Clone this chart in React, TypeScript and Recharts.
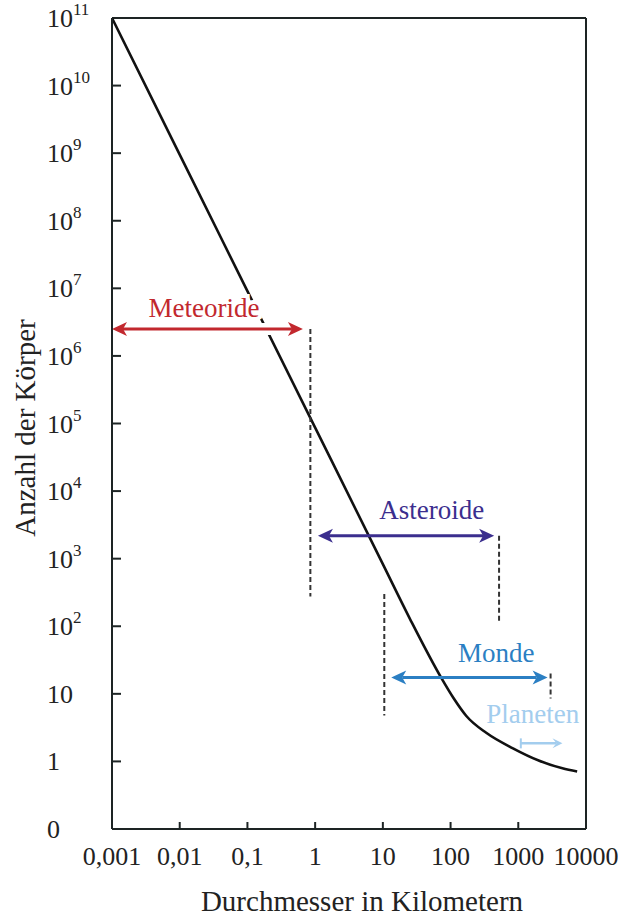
import { LineChart, Line, XAxis, YAxis, ReferenceLine, ReferenceDot } from "recharts";

// size distribution of bodies in the solar system (log-log)
const diameterKm = [0.001, 0.01, 0.1, 1, 10, 25, 74, 111, 171, 336, 834, 2000, 4490, 7400];
const bodyCount = [1e11, 9.5e8, 9.1e6, 8.7e4, 830, 130, 16.8, 8.6, 4.7, 2.65, 1.56, 1.03, 0.79, 0.71];

const xTicks = [0.001, 0.01, 0.1, 1, 10, 100, 1000, 10000];
const xTickLabels = ["0,001", "0,01", "0,1", "1", "10", "100", "1000", "10000"];

const yTicks = [0.1, 1, 10, 1e2, 1e3, 1e4, 1e5, 1e6, 1e7, 1e8, 1e9, 1e10, 1e11];
const yTickBases = ["0", "1", "10", "10", "10", "10", "10", "10", "10", "10", "10", "10", "10"];
const yTickExponents = ["", "", "", "2", "3", "4", "5", "6", "7", "8", "9", "10", "11"];

// range arrows: from / to diameter, height of the arrow, where the label sits
const rangeNames = ["Meteoride", "Asteroide", "Monde", "Planeten"];
const rangeFrom = [0.001, 1.1, 13.3, 1090];
const rangeTo = [0.66, 440, 2710, 4490];
const rangeLevel = [2.5e6, 2180, 17.4, 1.85];
const rangeLabelAt = [0.0229, 52.7, 471, 1635];
const rangeColors = ["#c2282e", "#3b2e8e", "#2b7fc3", "#a3cdee"];

// dashed boundary markers: diameter, top and bottom count
const guideAt = [0.85, 520, 10.5, 3000];
const guideTop = [2.5e6, 2180, 300, 20];
const guideBottom = [275, 120, 4.8, 8.5];

const data = diameterKm.map((d, i) => ({ d, n: bodyCount[i] }));

const FONT = "'Liberation Serif', 'DejaVu Serif', serif";
const INK = "#1d2424";
const PLOT_LEFT = 112;
const PLOT_BOTTOM = 829;

function YTick(props: any) {
  const { y, payload } = props;
  const i = yTicks.indexOf(payload.value);
  const exp = yTickExponents[i];
  const inner = i > 0 && i < yTicks.length - 1;
  return (
    <g>
      {inner && <line x1={PLOT_LEFT} x2={PLOT_LEFT + 9} y1={y} y2={y} stroke={INK} strokeWidth={2} />}
      <text x={47} y={y + 9} fontSize={26} fill="#222" fontFamily={FONT}>
        {yTickBases[i]}
        {exp && (
          <tspan dy={-12} fontSize={17}>
            {exp}
          </tspan>
        )}
      </text>
    </g>
  );
}

function XTick(props: any) {
  const { x, payload } = props;
  const i = xTicks.indexOf(payload.value);
  const inner = i > 0 && i < xTicks.length - 1;
  return (
    <g>
      {inner && <line x1={x} x2={x} y1={PLOT_BOTTOM} y2={PLOT_BOTTOM - 7} stroke={INK} strokeWidth={2} />}
      <text x={x} y={865} fontSize={26} fill="#222" textAnchor="middle" fontFamily={FONT}>
        {xTickLabels[i]}
      </text>
    </g>
  );
}

function arrowHead(x: number, y: number, dir: number, len: number, half: number) {
  return `M${x},${y} L${x - dir * len},${y - half} L${x - dir * (len - 4)},${y} L${x - dir * len},${y + half} Z`;
}

function RangeArrow(props: any) {
  const { x1, x2, y1, idx } = props;
  const color = rangeColors[idx];
  const small = idx === 3;
  const left = Math.min(x1, x2);
  const right = Math.max(x1, x2);
  const len = small ? 10 : 15;
  const half = small ? 5 : 7;
  return (
    <g>
      {idx === 0 && <line x1={left} x2={right} y1={y1} y2={y1} stroke="#fff" strokeWidth={12} />}
      <line
        x1={left + (small ? 0 : len - 4)}
        x2={right - len + 4}
        y1={y1}
        y2={y1}
        stroke={color}
        strokeWidth={small ? 2.5 : 3}
      />
      {small ? (
        <line x1={left} x2={left} y1={y1 - 5} y2={y1 + 5} stroke={color} strokeWidth={2} />
      ) : (
        <path d={arrowHead(left, y1, -1, len, half)} fill={color} />
      )}
      <path d={arrowHead(right, y1, 1, len, half)} fill={color} />
    </g>
  );
}

const labelRise = [12, 17, 16, 20];

function RangeLabel(props: any) {
  const { cx, cy, idx } = props;
  return (
    <text
      x={cx}
      y={cy - labelRise[idx]}
      textAnchor="middle"
      fontSize={27}
      fontFamily={FONT}
      fill={rangeColors[idx]}
      stroke={idx === 0 ? "#fff" : "none"}
      strokeWidth={idx === 0 ? 8 : 0}
      paintOrder="stroke"
    >
      {rangeNames[idx]}
    </text>
  );
}

export default function App() {
  return (
    <div style={{ position: "absolute", left: 0, top: 0, background: "#fff" }}>
      <LineChart
        width={643}
        height={917}
        data={data}
        margin={{ top: 18, right: 57, bottom: 28, left: 0 }}
        style={{ fontFamily: FONT }}
      >
        <XAxis
          dataKey="d"
          type="number"
          scale="log"
          domain={[0.001, 10000]}
          ticks={xTicks}
          interval={0}
          height={60}
          tickLine={false}
          axisLine={{ stroke: INK, strokeWidth: 2 }}
          tick={<XTick />}
          label={{
            content: () => (
              <text x={362} y={911} textAnchor="middle" fontSize={29} fill="#222" fontFamily={FONT}>
                Durchmesser in Kilometern
              </text>
            ),
          }}
        />
        <YAxis
          type="number"
          scale="log"
          domain={[0.1, 1e11]}
          ticks={yTicks}
          interval={0}
          width={112}
          tickLine={false}
          axisLine={{ stroke: INK, strokeWidth: 2 }}
          tick={<YTick />}
          label={{
            content: () => (
              <text
                transform="translate(35,428) rotate(-90)"
                textAnchor="middle"
                fontSize={29}
                fill="#222"
                fontFamily={FONT}
              >
                Anzahl der Körper
              </text>
            ),
          }}
        />
        <ReferenceLine y={1e11} stroke={INK} strokeWidth={2} />
        <ReferenceLine x={10000} stroke={INK} strokeWidth={2} />
        <Line
          type="monotone"
          dataKey="n"
          stroke="#111"
          strokeWidth={2.6}
          dot={false}
          activeDot={false}
          isAnimationActive={false}
        />
        {guideAt.map((g, i) => (
          <ReferenceLine
            key={`g${i}`}
            segment={[
              { x: g, y: guideTop[i] },
              { x: g, y: guideBottom[i] },
            ]}
            stroke="#333"
            strokeWidth={2}
            strokeDasharray="5 3"
          />
        ))}
        {rangeNames.map((name, i) => (
          <ReferenceLine
            key={name}
            segment={[
              { x: rangeFrom[i], y: rangeLevel[i] },
              { x: rangeTo[i], y: rangeLevel[i] },
            ]}
            shape={(p: any) => <RangeArrow {...p} idx={i} />}
          />
        ))}
        {rangeNames.map((name, i) => (
          <ReferenceDot
            key={`l${name}`}
            x={rangeLabelAt[i]}
            y={rangeLevel[i]}
            r={0}
            shape={(p: any) => <RangeLabel {...p} idx={i} />}
          />
        ))}
      </LineChart>
    </div>
  );
}
